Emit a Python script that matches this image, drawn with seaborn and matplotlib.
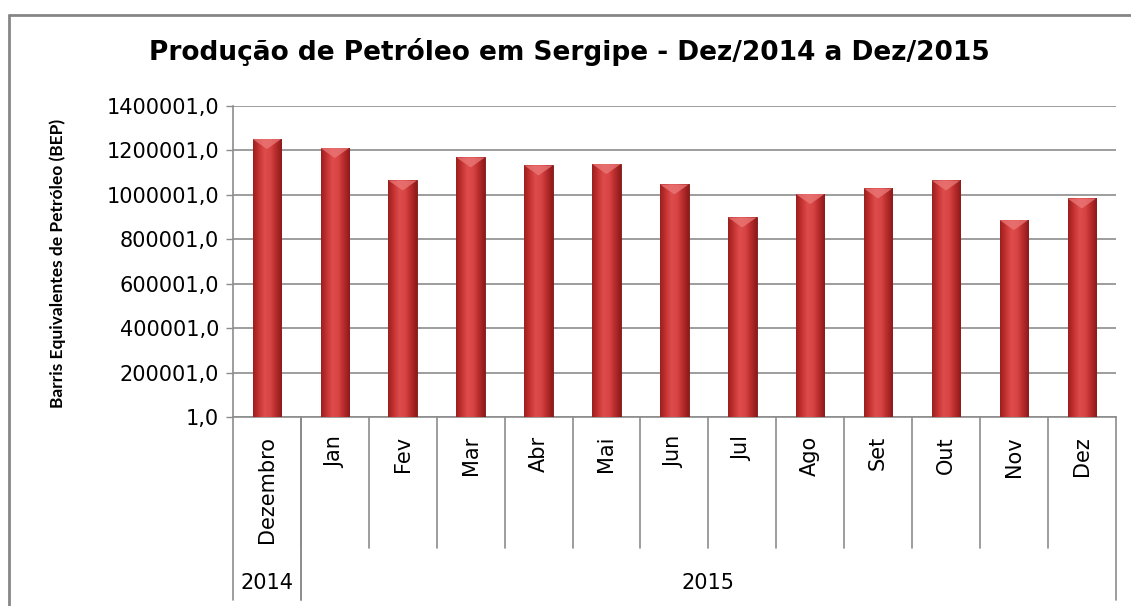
import numpy as np
import pandas as pd
import matplotlib
matplotlib.use("Agg")
import matplotlib.pyplot as plt
import seaborn as sns
from matplotlib.colors import LinearSegmentedColormap
from matplotlib.patches import Polygon
from matplotlib.lines import Line2D
from matplotlib.ticker import FuncFormatter

# Dados (BEP por mes)
meses = ["Dezembro", "Jan", "Fev", "Mar", "Abr", "Mai", "Jun",
         "Jul", "Ago", "Set", "Out", "Nov", "Dez"]
anos = ["2014"] + ["2015"] * 12
producao = [1250000, 1209600, 1063700, 1167300, 1131300, 1137500, 1045700,
            897200, 1002500, 1027700, 1063700, 885500, 982700]
y_ticks = [1, 200001, 400001, 600001, 800001, 1000001, 1200001, 1400001]

titulo = "Produção de Petróleo em Sergipe - Dez/2014 a Dez/2015"
rotulo_y = "Barris Equivalentes de Petróleo (BEP)"

sns.set_theme(style="white")
plt.rcParams["font.family"] = ["DejaVu Sans"]
plt.rcParams["text.color"] = "black"

cinza = "#8c8c8c"

df = pd.DataFrame({"mes": meses, "ano": anos, "bep": producao})

fig = plt.figure(figsize=(11.31, 6.06), dpi=100)
ax = fig.add_axes([0.206, 0.3119, 0.7805, 0.5137])

sns.barplot(data=df, x="mes", y="bep", order=meses, color="#c83030",
            saturation=1, width=0.42, ax=ax, zorder=3)

# gradiente "cilindro" dentro de cada barra
cmap = LinearSegmentedColormap.from_list(
    "cil", ["#9a1e1e", "#c53232", "#de4c4c", "#d84444", "#b52a2a", "#8c1a1a"])
grad = np.linspace(0, 1, 256).reshape(1, -1)
for p in list(ax.patches):
    x0, y0 = p.get_x(), p.get_y()
    w, h = p.get_width(), p.get_height()
    im = ax.imshow(grad, cmap=cmap, extent=[x0, x0 + w, y0, y0 + h],
                   aspect="auto", zorder=3.1, interpolation="bilinear")
    im.set_clip_path(p)
    topo = y0 + h
    d = 45000
    bisel = Polygon([[x0, topo], [x0 + w, topo], [x0 + w / 2, topo - d]],
                    closed=True, facecolor="#ec7a7a", edgecolor="none",
                    alpha=0.75, zorder=3.2)
    ax.add_patch(bisel)
    p.set_edgecolor("#7a1414")
    p.set_linewidth(0.6)

ax.set_xlim(-0.5, len(meses) - 0.5)
ax.set_ylim(y_ticks[0], y_ticks[-1])
ax.set_yticks(y_ticks)
ax.yaxis.set_major_formatter(FuncFormatter(lambda v, pos: f"{v:.1f}".replace(".", ",")))
ax.tick_params(axis="y", labelsize=15, labelcolor="black", length=5, width=1,
               direction="out", left=True, color=cinza, pad=5)
ax.set_xticks([])
ax.set_xlabel("")
ax.set_ylabel("")
ax.yaxis.grid(True, color=cinza, linewidth=1.2)
ax.set_axisbelow(True)
for s in ["top", "right"]:
    ax.spines[s].set_visible(False)
for s in ["left", "bottom"]:
    ax.spines[s].set_color(cinza)
    ax.spines[s].set_linewidth(1.2)

# eixo de categorias em dois niveis
tr = ax.get_xaxis_transform()
y_mes = -0.421
y_ano = -0.588
for i, m in enumerate(meses):
    ax.text(i, -0.061, m, transform=tr, rotation=90, ha="center", va="top",
            fontsize=15, color="black")
    if i > 0:
        ax.add_line(Line2D([i - 0.5, i - 0.5], [0, y_mes], transform=tr,
                           color=cinza, lw=1.2, clip_on=False))
grupos = df.groupby("ano", sort=False).size()
inicio = -0.5
for ano, n in grupos.items():
    fim = inicio + n
    ax.text((inicio + fim) / 2, -0.533, ano, transform=tr, ha="center",
            va="center", fontsize=15, color="black")
    for xb in (inicio, fim):
        ax.add_line(Line2D([xb, xb], [0, y_ano], transform=tr,
                           color=cinza, lw=1.2, clip_on=False))
    inicio = fim

fig.text(0.5035, 1 - 52 / 606, titulo, ha="center", va="center",
         fontsize=19, fontweight="bold", color="black")
fig.text(58 / 1131, 1 - 263 / 606, rotulo_y, ha="center", va="center",
         rotation=90, fontsize=12.5, fontweight="bold", color="black",
         family=["Lato", "DejaVu Sans"])

# borda da area do grafico
fig.add_artist(Line2D([8.5 / 1131, 1], [1 - 14.5 / 606, 1 - 14.5 / 606],
                      transform=fig.transFigure, color="#868686", lw=2))
fig.add_artist(Line2D([8.5 / 1131, 8.5 / 1131], [0, 1 - 14.5 / 606],
                      transform=fig.transFigure, color="#868686", lw=2))

fig.savefig("out.png", dpi=100)
